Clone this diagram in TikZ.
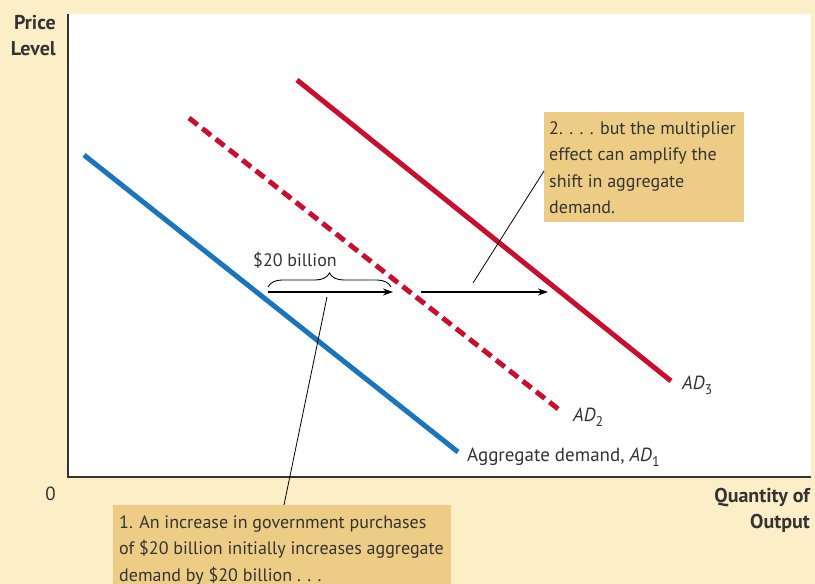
\documentclass[tikz,border=0pt]{standalone}
\usepackage{fontspec}
\setmainfont{PT Sans}
\usetikzlibrary{decorations.pathreplacing,arrows.meta}
\definecolor{bgcream}{HTML}{FCEFC7}
\definecolor{boxtan}{HTML}{EDCD86}
\definecolor{adblue}{HTML}{1A75BC}
\definecolor{adred}{HTML}{C8102E}
\definecolor{txt}{HTML}{333333}
\newcommand{\adlab}[1]{\textit{AD}\raisebox{-0.28em}{\fontsize{14}{14}\selectfont #1}}
\begin{document}
\begin{tikzpicture}[x=1pt,y=-1pt,
  boxfill/.style={fill=boxtan, draw=none, inner sep=0pt, anchor=north west},
  boxtext/.style={anchor=base west, inner sep=0pt, align=left, text=txt, font=\fontsize{18}{26.5}\selectfont},
  axislab/.style={inner sep=0pt, align=right, text=txt, font=\bfseries\fontsize{20}{26}\selectfont},
  curvelab/.style={anchor=base west, inner sep=0pt, text=txt, font=\fontsize{19}{24}\selectfont},
  adline/.style={line width=5pt},
  shiftarrow/.style={line width=1.2pt, -{Stealth[length=10pt,width=7pt]}},
  callout/.style={line width=0.8pt}]
\useasboundingbox (0,0) rectangle (815,584);
\fill[bgcream] (0,0) rectangle (815,584);
\fill[white] (68,14) rectangle (811,477);
\coordinate (ytop) at (68,14);
\coordinate (orig) at (68,477);
\coordinate (xend) at (811,477);
\draw[line width=1.3pt, txt] (ytop) -- (orig) -- (xend);

% axis labels (base anchor = last line)
\node[axislab, anchor=base east] (pl) at (56,55) {Price\\Level};
\node[inner sep=0pt, anchor=base east, text=txt, font=\fontsize{19}{24}\selectfont] (zero) at (56,500) {0};
\node[axislab, anchor=base east] (qo) at (810,528) {Quantity of\\Output};

% AD curves
\coordinate (a1s) at (84,155); \coordinate (a1e) at (458,452);
\coordinate (a2s) at (189,118); \coordinate (a2e) at (562,412);
\coordinate (a3s) at (297,80); \coordinate (a3e) at (671,381);
\draw[adline, adblue] (a1s) -- (a1e);
\draw[adline, adred, dash pattern=on 11pt off 6pt] (a2s) -- (a2e);
\draw[adline, adred] (a3s) -- (a3e);

\node[curvelab] (l3) at (682,389) {\adlab{3}};
\node[curvelab] (l2) at (573,421) {\adlab{2}};
\node[curvelab] (l1) at (467,461) {Aggregate demand, \adlab{1}};

% shift arrows
\coordinate (s1a) at (268,292); \coordinate (s1b) at (393,292);
\coordinate (s2a) at (421,292); \coordinate (s2b) at (548,292);
\draw[shiftarrow] (s1a) -- (s1b);
\draw[shiftarrow] (s2a) -- (s2b);
\coordinate (bra) at (268,287); \coordinate (brb) at (391,287);
\draw[line width=0.9pt, decorate, decoration={brace, amplitude=14pt}] (bra) -- (brb);
\node[inner sep=0pt, anchor=base, text=txt, font=\fontsize{18}{24}\selectfont] (twenty) at (295,266) {\$20 billion};

% box 1
\node[boxfill, minimum width=338pt, minimum height=80pt] (b1) at (113,505) {};
\node[boxtext] (t1) at (119,581) {1. An increase in government purchases\\of \$20 billion initially increases aggregate\\demand by \$20 billion . . .};
\coordinate (c1a) at (327,297);
\coordinate (c1b) at (284,505);
\draw[callout] (c1a) -- (c1b);

% box 2
\node[boxfill, minimum width=200pt, minimum height=110pt] (b2) at (544,112) {};
\node[boxtext] (t2) at (549,213.5) {2. . . . but the multiplier\\effect can amplify the\\shift in aggregate\\demand.};
\coordinate (c2a) at (473,283);
\coordinate (c2b) at (544,171);
\draw[callout] (c2a) -- (c2b);
\end{tikzpicture}
\end{document}
